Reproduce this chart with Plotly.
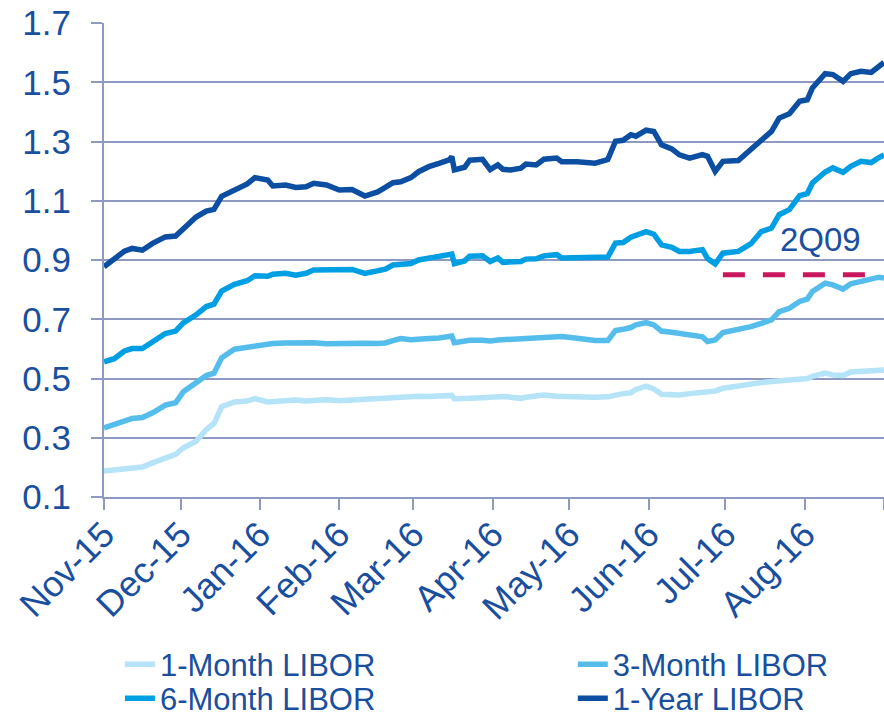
import plotly.graph_objects as go

dates = [
    "2015-11-01", "2015-11-05", "2015-11-09", "2015-11-12", "2015-11-16", "2015-11-20",
    "2015-11-25", "2015-11-29", "2015-12-02", "2015-12-07", "2015-12-11", "2015-12-14",
    "2015-12-17", "2015-12-22", "2015-12-27", "2015-12-30", "2016-01-04", "2016-01-06",
    "2016-01-11", "2016-01-15",
    "2016-01-19", "2016-01-22", "2016-01-27", "2016-02-01", "2016-02-06", "2016-02-11",
    "2016-02-16", "2016-02-19", "2016-02-22", "2016-02-25", "2016-02-29", "2016-03-03",
    "2016-03-07", "2016-03-11", "2016-03-15", "2016-03-16", "2016-03-17", "2016-03-21",
    "2016-03-23", "2016-03-28", "2016-03-31",
    "2016-04-03", "2016-04-05", "2016-04-08", "2016-04-12", "2016-04-14", "2016-04-18",
    "2016-04-21", "2016-04-26", "2016-04-28", "2016-05-04", "2016-05-11", "2016-05-16",
    "2016-05-19", "2016-05-22", "2016-05-25", "2016-05-27", "2016-05-31", "2016-06-03",
    "2016-06-06", "2016-06-10", "2016-06-13",
    "2016-06-17", "2016-06-22", "2016-06-24", "2016-06-27", "2016-06-30", "2016-07-06",
    "2016-07-11", "2016-07-15", "2016-07-19", "2016-07-22", "2016-07-26", "2016-07-30",
    "2016-08-02", "2016-08-04", "2016-08-09", "2016-08-12", "2016-08-16", "2016-08-19",
    "2016-08-23", "2016-08-27", "2016-08-30", "2016-09-01",
]

libor_1m = [
    0.188, 0.191, 0.194, 0.196, 0.201, 0.215, 0.230, 0.244, 0.266, 0.288, 0.328, 0.348,
    0.405, 0.421, 0.424, 0.432, 0.421, 0.422, 0.424, 0.427,
    0.424, 0.425, 0.428, 0.425, 0.428, 0.429, 0.430, 0.433, 0.437, 0.439, 0.441, 0.440,
    0.439, 0.440, 0.443, 0.443, 0.432, 0.430, 0.433, 0.435, 0.437,
    0.437, 0.439, 0.437, 0.433, 0.437, 0.441, 0.444, 0.440, 0.439, 0.437, 0.437, 0.438,
    0.445, 0.449, 0.452, 0.463, 0.474, 0.465, 0.447, 0.447, 0.444,
    0.449, 0.452, 0.452, 0.458, 0.467, 0.476, 0.482, 0.486, 0.490, 0.493, 0.495, 0.497,
    0.500, 0.507, 0.518, 0.512, 0.510, 0.522, 0.525, 0.527, 0.528, 0.529,
]

libor_3m = [
    0.333, 0.345, 0.357, 0.365, 0.368, 0.384, 0.410, 0.418, 0.455, 0.483, 0.510, 0.518,
    0.570, 0.599, 0.605, 0.611, 0.615, 0.618, 0.620, 0.621,
    0.620, 0.621, 0.617, 0.618, 0.621, 0.619, 0.618, 0.620, 0.628, 0.635, 0.631, 0.634,
    0.635, 0.637, 0.642, 0.643, 0.621, 0.627, 0.629, 0.629, 0.627,
    0.630, 0.631, 0.633, 0.633, 0.636, 0.638, 0.642, 0.644, 0.642, 0.636, 0.628, 0.628,
    0.662, 0.666, 0.672, 0.681, 0.689, 0.681, 0.660, 0.656, 0.653,
    0.647, 0.641, 0.625, 0.630, 0.655, 0.664, 0.675, 0.686, 0.698, 0.726, 0.737, 0.760,
    0.768, 0.794, 0.822, 0.816, 0.802, 0.820, 0.828, 0.833, 0.842, 0.839,
]

libor_6m = [
    0.556, 0.567, 0.593, 0.601, 0.601, 0.624, 0.652, 0.660, 0.688, 0.715, 0.743, 0.751,
    0.795, 0.818, 0.830, 0.847, 0.845, 0.852, 0.855, 0.849,
    0.855, 0.866, 0.866, 0.864, 0.868, 0.855, 0.864, 0.869, 0.883, 0.886, 0.888, 0.900,
    0.905, 0.910, 0.916, 0.920, 0.888, 0.897, 0.913, 0.914, 0.895,
    0.907, 0.892, 0.894, 0.895, 0.903, 0.904, 0.914, 0.918, 0.907, 0.909, 0.907, 0.910,
    0.957, 0.959, 0.977, 0.982, 0.996, 0.987, 0.951, 0.943, 0.929,
    0.929, 0.935, 0.905, 0.887, 0.923, 0.929, 0.955, 0.996, 1.008, 1.053, 1.070, 1.117,
    1.124, 1.160, 1.197, 1.211, 1.196, 1.216, 1.233, 1.229, 1.246, 1.255,
]

libor_1y = [
    0.877, 0.905, 0.930, 0.939, 0.933, 0.956, 0.978, 0.981, 1.005, 1.045, 1.065, 1.071,
    1.115, 1.138, 1.157, 1.178, 1.170, 1.150, 1.153, 1.145,
    1.147, 1.159, 1.153, 1.136, 1.138, 1.116, 1.130, 1.145, 1.161, 1.164, 1.178, 1.198,
    1.215, 1.226, 1.238, 1.249, 1.204, 1.213, 1.237, 1.240, 1.205,
    1.221, 1.206, 1.204, 1.210, 1.224, 1.221, 1.240, 1.244, 1.232, 1.232, 1.227, 1.239,
    1.301, 1.304, 1.323, 1.318, 1.338, 1.334, 1.289, 1.275, 1.255,
    1.244, 1.256, 1.250, 1.199, 1.233, 1.236, 1.272, 1.306, 1.334, 1.379, 1.394, 1.436,
    1.441, 1.481, 1.529, 1.526, 1.503, 1.529, 1.537, 1.533, 1.556, 1.567,
]

series_names = ["1-Month LIBOR", "3-Month LIBOR", "6-Month LIBOR", "1-Year LIBOR"]
series_values = [libor_1m, libor_3m, libor_6m, libor_1y]
series_colors = ["#B5E3F8", "#55BDEB", "#009FE3", "#0B4EA2"]
series_legends = ["legend", "legend2", "legend3", "legend4"]

marker_label = "2Q09"
marker_level = 0.85
marker_start = "2016-06-30"
marker_end = "2016-08-25"
label_date = "2016-08-07"
label_level = 0.968

text_color = "#1A4F9E"
grid_color = "#8E9AC2"
font_family = "Liberation Sans, Arial, sans-serif"

fig = go.Figure()
for name, vals, col, lg in zip(series_names, series_values, series_colors, series_legends):
    fig.add_trace(go.Scatter(
        x=dates, y=vals, mode="lines", name=name,
        line=dict(color=col, width=5.5), legend=lg, showlegend=True,
    ))

fig.add_shape(
    type="line", xref="x", yref="y",
    x0=marker_start, x1=marker_end, y0=marker_level, y1=marker_level,
    line=dict(color="#C8175D", width=5, dash="22px,18px"),
)
fig.add_annotation(
    x=label_date, y=label_level, xref="x", yref="y", text=marker_label,
    showarrow=False, font=dict(size=33, color=text_color, family=font_family),
)

legend_common = dict(
    orientation="v", yanchor="top", xanchor="left",
    xref="container", yref="container", visible=True,
    font=dict(size=31, color=text_color, family=font_family),
    bgcolor="rgba(0,0,0,0)", tracegroupgap=0,
)

col1_x, col2_x = 0.1357, 0.648
row1_y, row2_y = 0.1107, 0.0633

fig.update_layout(
    width=884, height=717,
    showlegend=True,
    margin=dict(l=104, r=0, t=23, b=220, autoexpand=False),
    paper_bgcolor="white", plot_bgcolor="white",
    font=dict(family=font_family, color=text_color),
    legend=dict(x=col1_x, y=row1_y, **legend_common),
    legend2=dict(x=col2_x, y=row1_y, **legend_common),
    legend3=dict(x=col1_x, y=row2_y, **legend_common),
    legend4=dict(x=col2_x, y=row2_y, **legend_common),
    xaxis=dict(
        type="date", range=["2015-11-01", "2016-09-01"], automargin=False,
        dtick="M1", tick0="2015-11-01", tickformat="%b-%y", tickangle=-45,
        showgrid=False, zeroline=False,
        showline=True, linecolor=grid_color, linewidth=2,
        ticks="outside", ticklen=11, tickcolor=grid_color, tickwidth=2,
        tickfont=dict(size=36, color=text_color, family=font_family),
        ticklabelstandoff=-11,
    ),
    yaxis=dict(
        range=[0.1, 1.7], tick0=0.1, dtick=0.2, tickformat=".1f", automargin=False,
        showgrid=True, gridcolor=grid_color, gridwidth=2, zeroline=False,
        showline=True, linecolor=grid_color, linewidth=2,
        ticks="outside", ticklen=11, tickcolor=grid_color, tickwidth=2,
        tickfont=dict(size=35, color=text_color, family=font_family),
        ticklabelstandoff=13,
    ),
)

fig.write_html(
    "out.html",
    config={"displayModeBar": False},
    post_script="document.body.style.margin='0';",
)
